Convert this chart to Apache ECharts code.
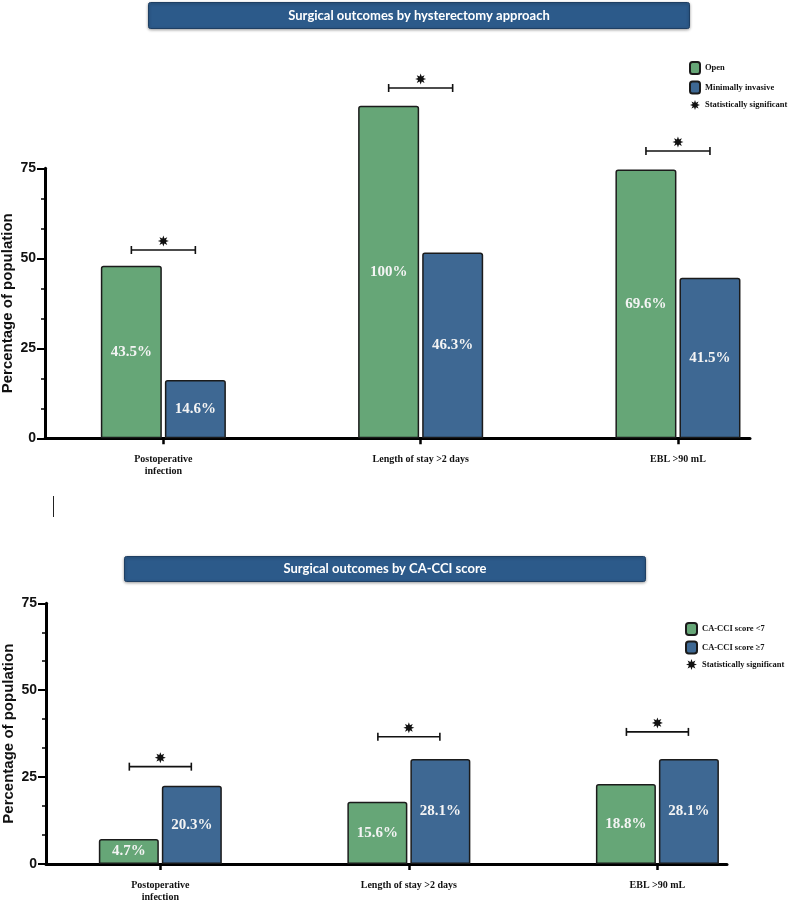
<!DOCTYPE html>
<html>
<head>
<meta charset="utf-8">
<script src="https://cdn.jsdelivr.net/npm/echarts@6/dist/echarts.min.js"></script>
<style>html,body{margin:0;padding:0;background:#fff}#c{width:788px;height:901px}</style>
</head>
<body>
<div id="c"></div>
<script>
// ---- data ----
const categories = ['Postoperative\ninfection', 'Length of stay >2 days', 'EBL >90 mL'];
const approachNames = ['Open', 'Minimally invasive'];
const openHeights = [47.9, 92.4, 74.7];
const miHeights = [16.2, 51.6, 44.6];
const openLabels = ['43.5%', '100%', '69.6%'];
const miLabels = ['14.6%', '46.3%', '41.5%'];
const approachSigLevel = [52.3, 97.3, 79.8];

const cciNames = ['CA-CCI score <7', 'CA-CCI score \u22657'];
const cciLowHeights = [7.2, 17.9, 23.0];
const cciHighHeights = [22.5, 30.2, 30.2];
const cciLowLabels = ['4.7%', '15.6%', '18.8%'];
const cciHighLabels = ['20.3%', '28.1%', '28.1%'];
const cciSigLevel = [28.0, 36.6, 38.0];

const sigName = 'Statistically significant';
const yTickValues = [0, 25, 50, 75];
const catIdx = categories.map((_, i) => i);

// ---- styles ----
const GREEN = '#66a677';
const BLUE = '#3e6893';
const TITLE_BLUE = '#2c5a8a';
const SERIF = '"Liberation Serif", "DejaVu Serif", serif';
const SANS = '"Liberation Sans", Arial, sans-serif';

function starPts(cx, cy, R, r) {
  const pts = [];
  for (let k = 0; k < 16; k++) {
    const a = -Math.PI / 2 + k * Math.PI / 8;
    const rad = k % 2 === 0 ? R : r;
    pts.push([cx + rad * Math.cos(a), cy + rad * Math.sin(a)]);
  }
  return pts;
}
const starIcon = 'path://' + starPts(10, 10, 10, 5).map((p, i) => (i ? 'L' : 'M') + p[0].toFixed(2) + ' ' + p[1].toFixed(2)).join(' ') + ' Z';

function bracketRender(levels, halfSpan) {
  return function (params, api) {
    const i = params.dataIndex;
    const c = api.coord([api.value(0), levels[i]]);
    const x0 = c[0] - halfSpan, x1 = c[0] + halfSpan, y = c[1];
    const st = { stroke: '#111', lineWidth: 1.6 };
    return {
      type: 'group',
      children: [
        { type: 'line', shape: { x1: x0, y1: y, x2: x1, y2: y }, style: st },
        { type: 'line', shape: { x1: x0, y1: y - 4, x2: x0, y2: y + 4 }, style: st },
        { type: 'line', shape: { x1: x1, y1: y - 4, x2: x1, y2: y + 4 }, style: st },
        { type: 'polygon', shape: { points: starPts(c[0], y - 9, 5.5, 2.8) }, style: { fill: '#111' } }
      ]
    };
  };
}

function barSeries(name, heights, labels, color, axisIdx, width) {
  return {
    name: name,
    type: 'bar',
    xAxisIndex: axisIdx,
    yAxisIndex: axisIdx,
    data: heights.map((v, i) => [i, v]),
    barWidth: width,
    barGap: '5%',
    clip: false,
    itemStyle: { color: color, borderColor: '#1b1b1b', borderWidth: 1.5, borderRadius: [2, 2, 0, 0] },
    label: {
      show: true, position: 'inside',
      formatter: p => labels[p.dataIndex],
      color: '#f4f4f4', fontFamily: SERIF, fontWeight: 'bold', fontSize: 15
    }
  };
}

function xAxisDef(grid) {
  return {
    type: 'value', gridIndex: grid, min: -0.46, max: 2.28,
    splitLine: { show: false },
    axisLine: { show: true, onZero: false, lineStyle: { color: '#000', width: 3 } },
    axisTick: { show: true, customValues: catIdx, length: 6, lineStyle: { color: '#000', width: 2.5 } },
    axisLabel: {
      customValues: catIdx, formatter: v => categories[Math.round(v)],
      margin: 15, color: '#111', fontFamily: SERIF, fontWeight: 'bold', fontSize: 10, lineHeight: 12
    }
  };
}
function yAxisDef(grid) {
  return {
    type: 'value', gridIndex: grid, min: yTickValues[0], max: yTickValues[yTickValues.length - 1],
    interval: yTickValues[1] - yTickValues[0],
    name: 'Percentage of population', nameLocation: 'middle', nameGap: 30, nameMoveOverlap: false,
    nameTextStyle: { fontFamily: SANS, fontWeight: 'bold', fontSize: 15, color: '#111' },
    splitLine: { show: false },
    axisLine: { show: true, onZero: false, lineStyle: { color: '#000', width: 3 } },
    axisTick: { show: true, length: 8, lineStyle: { color: '#000', width: 2 } },
    minorTick: { show: true, splitNumber: 3, length: 4, lineStyle: { color: '#000', width: 1.5 } },
    axisLabel: { margin: 9, fontFamily: SANS, fontWeight: 'bold', fontSize: 14, color: '#111' }
  };
}

function titleBar(x, y, w, h, text) {
  return {
    type: 'group', left: x, top: y,
    children: [
      { type: 'rect', shape: { x: 0, y: 0, width: w, height: h, r: 2 },
        style: { fill: TITLE_BLUE, stroke: '#1f3f63', lineWidth: 1, shadowBlur: 3, shadowColor: 'rgba(0,0,0,0.35)', shadowOffsetY: 1 } },
      { type: 'text', style: { x: w / 2, y: h / 2, text: text, fill: '#fff', font: 'bold 13px Lato, "Open Sans", sans-serif', align: 'center', verticalAlign: 'middle' } }
    ]
  };
}

const chart = echarts.init(document.getElementById('c'), null, { renderer: 'canvas' });
chart.setOption({
  animation: false,
  backgroundColor: '#fff',
  grid: [
    { left: 45, right: 38, top: 168.3, bottom: 462.7, containLabel: false, outerBoundsMode: 'none' },
    { left: 46, right: 61, top: 603.3, bottom: 37, containLabel: false, outerBoundsMode: 'none' }
  ],
  xAxis: [xAxisDef(0), xAxisDef(1)],
  yAxis: [yAxisDef(0), yAxisDef(1)],
  legend: [
    {
      orient: 'vertical', left: 684, top: 56, itemWidth: 10, itemHeight: 12, itemGap: 5.5,
      textStyle: { fontFamily: SERIF, fontWeight: 'bold', fontSize: 8.5, color: '#111' },
      data: [
        { name: approachNames[0], icon: 'roundRect' },
        { name: approachNames[1], icon: 'roundRect' },
        { name: sigName, icon: starIcon }
      ]
    },
    {
      orient: 'vertical', left: 680, top: 617, itemWidth: 11, itemHeight: 12, itemGap: 4.5,
      textStyle: { fontFamily: SERIF, fontWeight: 'bold', fontSize: 8.5, color: '#111' },
      data: [
        { name: cciNames[0], icon: 'roundRect' },
        { name: cciNames[1], icon: 'roundRect' },
        { name: sigName, icon: starIcon }
      ]
    }
  ],
  series: [
    barSeries(approachNames[0], openHeights, openLabels, GREEN, 0, 61),
    barSeries(approachNames[1], miHeights, miLabels, BLUE, 0, 61),
    {
      name: sigName, type: 'custom', xAxisIndex: 0, yAxisIndex: 0, clip: false,
      itemStyle: { color: '#111' },
      data: approachSigLevel.map((v, i) => [i, v]),
      renderItem: bracketRender(approachSigLevel, 32), z: 5
    },
    barSeries(cciNames[0], cciLowHeights, cciLowLabels, GREEN, 1, 60),
    barSeries(cciNames[1], cciHighHeights, cciHighLabels, BLUE, 1, 60),
    {
      name: sigName, type: 'custom', xAxisIndex: 1, yAxisIndex: 1, clip: false,
      itemStyle: { color: '#111' },
      data: cciSigLevel.map((v, i) => [i, v]),
      renderItem: bracketRender(cciSigLevel, 31), z: 5
    }
  ],
  graphic: [
    titleBar(148, 2, 541, 26, 'Surgical outcomes by hysterectomy approach'),
    titleBar(124, 556, 521, 25, 'Surgical outcomes by CA-CCI score'),
    { type: 'line', shape: { x1: 53.5, y1: 496, x2: 53.5, y2: 517 }, style: { stroke: '#222', lineWidth: 1 } }
  ]
});
</script>
</body>
</html>
